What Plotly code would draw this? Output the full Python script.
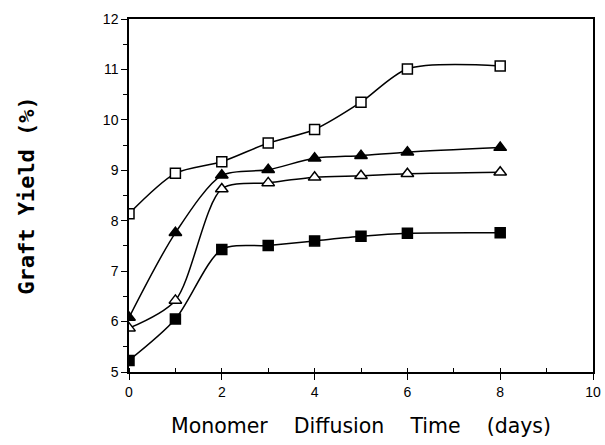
import plotly.graph_objects as go

days = [0, 1, 2, 3, 4, 5, 6, 8]
open_squares = [8.14, 8.94, 9.17, 9.54, 9.81, 10.35, 11.01, 11.07]
filled_triangles = [6.08, 7.76, 8.90, 9.01, 9.24, 9.29, 9.36, 9.45]
open_triangles = [5.87, 6.42, 8.63, 8.75, 8.86, 8.89, 8.93, 8.96]
filled_squares = [5.23, 6.05, 7.43, 7.51, 7.60, 7.69, 7.75, 7.76]

series = [
    (open_squares, "square", "white", 10),
    (filled_triangles, "triangle-up", "black", 11),
    (open_triangles, "triangle-up", "white", 11),
    (filled_squares, "square", "black", 10),
]

fig = go.Figure()
for ys, sym, fill, sz in series:
    fig.add_trace(go.Scatter(
        x=days, y=ys, mode="lines+markers",
        line=dict(color="black", width=1.5, shape="spline", smoothing=0.8),
        marker=dict(symbol=sym, size=sz, color=fill,
                    line=dict(color="black", width=1.5)),
        showlegend=False,
    ))

gap = "\u00a0" * 4
fig.update_layout(
    width=605, height=445,
    margin=dict(l=129, r=12, t=19, b=73, autoexpand=False),
    paper_bgcolor="white", plot_bgcolor="white",
    font=dict(family="Liberation Sans, Arial, sans-serif", color="black", size=14),
)
fig.update_xaxes(
    automargin=False,
    range=[0, 10], tickvals=[0, 2, 4, 6, 8, 10], ticks="outside", ticklen=6,
    tickcolor="black", tickwidth=1.2,
    minor=dict(dtick=1, ticks="inside", ticklen=4, tickcolor="black"),
    showline=True, linecolor="black", linewidth=1.5, mirror=True,
    showgrid=False, zeroline=False,
    title=dict(text=f"Monomer{gap}Diffusion{gap}Time{gap}(days)",
               font=dict(size=20.5, family="DejaVu Sans, sans-serif"), standoff=20),
)
fig.update_yaxes(
    automargin=False,
    range=[5, 12], tickvals=list(range(5, 13)), ticks="outside", ticklen=6,
    tickcolor="black", tickwidth=1.2,
    minor=dict(dtick=0.5, ticks="outside", ticklen=4, tickcolor="black"),
    showline=True, linecolor="black", linewidth=1.5, mirror=True,
    showgrid=False, zeroline=False,
    title=dict(text="<b>Graft Yield (%)</b>",
               font=dict(size=22, family="DejaVu Sans Mono, monospace"), standoff=62),
)
fig.write_html("out.html")
